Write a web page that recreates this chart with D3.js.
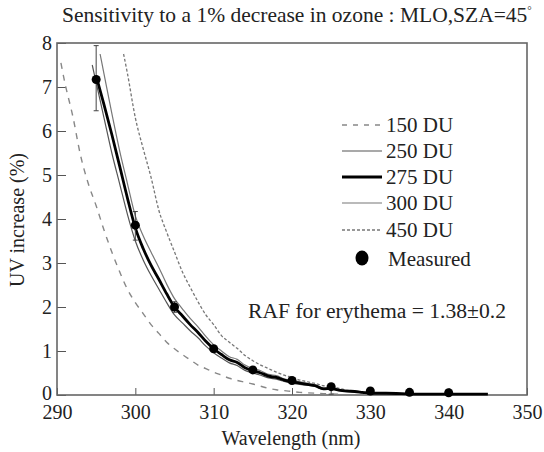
<!DOCTYPE html>
<html>
<head>
<meta charset="utf-8">
<script src="https://cdn.jsdelivr.net/npm/d3@7"></script>
<style>
  body { margin: 0; background: #fff; }
  svg, svg text { font-family: "Liberation Serif", "DejaVu Serif", serif !important; }
  svg text { fill: #222; }
</style>
</head>
<body>
<div id="wrapper"></div>
<script>
// wavelengths (nm) and UV increase (%) for each ozone column
const wl250 = [294.5, 295, 296, 297, 298, 299, 300, 301, 302, 303, 304, 305, 306, 307, 308, 309, 310, 311, 312, 313, 314, 315, 316, 317, 318, 319, 320, 321, 322, 323, 324, 325, 326, 327, 328, 329, 330, 332, 334, 336, 338, 340, 342, 345]
const du250 = [7.5, 7.1, 6.3, 5.5, 4.8, 4.1, 3.5, 3.07, 2.72, 2.41, 2.1, 1.82, 1.64, 1.46, 1.3, 1.11, 0.96, 0.84, 0.73, 0.67, 0.56, 0.5, 0.45, 0.39, 0.36, 0.31, 0.27, 0.24, 0.22, 0.19, 0.13, 0.13, 0.1, 0.08, 0.07, 0.05, 0.04, 0.03, 0.03, 0.02, 0.02, 0.02, 0.02, 0.02]

const wl275 = [295, 296, 297, 298, 299, 300, 301, 302, 303, 304, 305, 306, 307, 308, 309, 310, 311, 312, 313, 314, 315, 316, 317, 318, 319, 320, 321, 322, 323, 324, 325, 326, 327, 328, 329, 330, 332, 334, 336, 338, 340, 342, 345]
const du275 = [7.25, 6.6, 5.92, 5.2, 4.47, 3.8, 3.33, 2.95, 2.63, 2.3, 2.0, 1.8, 1.6, 1.42, 1.22, 1.05, 0.92, 0.8, 0.74, 0.62, 0.55, 0.5, 0.43, 0.4, 0.34, 0.3, 0.27, 0.24, 0.21, 0.14, 0.15, 0.11, 0.09, 0.08, 0.06, 0.04, 0.04, 0.03, 0.02, 0.02, 0.02, 0.02, 0.02]

const wl300 = [295.5, 296, 297, 298, 299, 300, 301, 302, 303, 304, 305, 306, 307, 308, 309, 310, 311, 312, 313, 314, 315, 316, 317, 318, 319, 320, 321, 322, 323, 324, 325, 326, 327, 328, 329, 330, 332, 334, 336, 338, 340, 342, 345]
const du300 = [7.75, 7.3, 6.4, 5.55, 4.8, 4.07, 3.62, 3.25, 2.9, 2.52, 2.19, 1.96, 1.74, 1.55, 1.33, 1.14, 1.0, 0.87, 0.81, 0.68, 0.6, 0.55, 0.47, 0.44, 0.37, 0.33, 0.3, 0.26, 0.23, 0.16, 0.16, 0.12, 0.1, 0.09, 0.07, 0.05, 0.04, 0.03, 0.03, 0.02, 0.02, 0.02, 0.02]

const wl150 = [290.5, 291, 292, 293, 294, 295, 296, 297, 298, 299, 300, 301, 302, 303, 304, 305, 306, 307, 308, 309, 310, 311, 312, 313, 314, 315, 316, 317, 318, 319, 320, 321, 322, 323, 324, 326]
const du150 = [7.55, 7.1, 6.35, 5.45, 4.8, 4.3, 3.75, 3.25, 2.8, 2.4, 2.1, 1.85, 1.6, 1.4, 1.2, 1.05, 0.92, 0.8, 0.68, 0.6, 0.52, 0.45, 0.38, 0.33, 0.29, 0.25, 0.2, 0.15, 0.12, 0.1, 0.08, 0.06, 0.05, 0.04, 0.03, 0.02]

const wl450 = [298.5, 299, 300, 301, 302, 303, 304, 305, 306, 307, 308, 309, 310, 311, 312, 313, 314, 315, 316, 317, 318, 319, 320, 321, 322, 323, 324, 325, 326, 327, 328, 329, 330, 332, 334, 336, 338, 340]
const du450 = [7.75, 7.3, 6.3, 5.6, 4.95, 4.2, 3.7, 3.25, 2.8, 2.45, 2.12, 1.82, 1.6, 1.35, 1.2, 1.06, 0.9, 0.78, 0.68, 0.6, 0.52, 0.45, 0.4, 0.34, 0.3, 0.26, 0.21, 0.2, 0.15, 0.11, 0.08, 0.06, 0.05, 0.04, 0.03, 0.03, 0.02, 0.02]

// measured points with error bars
const measWl = [295, 300, 305, 310, 315, 320, 325, 330, 335, 340]
const measVal = [7.17, 3.86, 2.0, 1.05, 0.57, 0.33, 0.19, 0.09, 0.06, 0.05]
const measLo = [6.46, 3.52, 1.88, null, null, null, 0.02, null, null, null]
const measHi = [7.94, 4.17, 2.12, null, null, null, null, null, null, null]

const xTicks = [290, 300, 310, 320, 330, 340, 350]
const yTicks = [0, 1, 2, 3, 4, 5, 6, 7, 8]

const legendLabels = ["150 DU", "250 DU", "275 DU", "300 DU", "450 DU"]

const FONT = "'Liberation Serif', 'DejaVu Serif', serif"

const width = 544
let dimensions = {
    width: width,
    height: 452,
    margin: { top: 43, right: 17, bottom: 57, left: 57 },
}
dimensions.boundedWidth = dimensions.width - dimensions.margin.left - dimensions.margin.right
dimensions.boundedHeight = dimensions.height - dimensions.margin.top - dimensions.margin.bottom

const wrapper = d3.select("#wrapper")
    .append("svg")
    .attr("width", dimensions.width)
    .attr("height", dimensions.height)
    .style("font-family", FONT)

const bounds = wrapper.append("g")
    .attr("transform", `translate(${dimensions.margin.left},${dimensions.margin.top})`)

const xScaler = d3.scaleLinear()
    .domain([290, 350])
    .range([0, dimensions.boundedWidth])

const yScaler = d3.scaleLinear()
    .domain([0, 8])
    .range([dimensions.boundedHeight, 0])

// axes with inward ticks
const xAxis = bounds.append("g")
    .attr("transform", `translate(0,${dimensions.boundedHeight})`)
    .call(d3.axisBottom(xScaler).tickValues(xTicks).tickSizeInner(-7).tickSizeOuter(0).tickPadding(10))
xAxis.attr("font-family", null)
xAxis.select(".domain").remove()
xAxis.selectAll("line").attr("stroke", "#555")
xAxis.selectAll("text").style("font-size", "20px").style("font-family", FONT).attr("fill", "#222")

const yAxis = bounds.append("g")
    .call(d3.axisLeft(yScaler).tickValues(yTicks).tickSizeInner(-9).tickSizeOuter(0).tickPadding(5))
yAxis.attr("font-family", null)
yAxis.select(".domain").remove()
yAxis.selectAll("line").attr("stroke", "#555")
yAxis.selectAll("text").style("font-size", "20px").style("font-family", FONT).attr("fill", "#222")
yAxis.selectAll("text").filter(d => d === 0).attr("dy", "0.2em")

bounds.append("rect")
    .attr("width", dimensions.boundedWidth)
    .attr("height", dimensions.boundedHeight)
    .attr("fill", "none")
    .attr("stroke", "#666")
    .attr("stroke-width", 1.6)

const lineGen = d3.line()
    .x(d => xScaler(d[0]))
    .y(d => yScaler(d[1]))
    .curve(d3.curveMonotoneX)

const series = [
    { wl: wl150, v: du150, color: "#888", w: 1.4, dash: "6,6" },
    { wl: wl450, v: du450, color: "#777", w: 1.3, dash: "3,2" },
    { wl: wl250, v: du250, color: "#555", w: 1.2, dash: null },
    { wl: wl300, v: du300, color: "#777", w: 1.2, dash: null },
    { wl: wl275, v: du275, color: "#000", w: 2.8, dash: null },
]

series.forEach(s => {
    bounds.append("path")
        .datum(d3.zip(s.wl, s.v))
        .attr("fill", "none")
        .attr("stroke", s.color)
        .attr("stroke-width", s.w)
        .attr("stroke-dasharray", s.dash)
        .attr("d", lineGen)
})

// error bars
const meas = measWl.map((w, i) => ({ w: w, v: measVal[i], lo: measLo[i], hi: measHi[i] }))
const errs = bounds.append("g").selectAll("g")
    .data(meas.filter(d => d.lo != null))
    .enter().append("g")
    .attr("stroke", "#444")
    .attr("stroke-width", 1)
errs.append("line")
    .attr("x1", d => xScaler(d.w)).attr("x2", d => xScaler(d.w))
    .attr("y1", d => yScaler(d.lo)).attr("y2", d => yScaler(d.hi != null ? d.hi : d.v))
errs.append("line")
    .attr("x1", d => xScaler(d.w) - 2.5).attr("x2", d => xScaler(d.w) + 2.5)
    .attr("y1", d => yScaler(d.lo)).attr("y2", d => yScaler(d.lo))
errs.filter(d => d.hi != null).append("line")
    .attr("x1", d => xScaler(d.w) - 2.5).attr("x2", d => xScaler(d.w) + 2.5)
    .attr("y1", d => yScaler(d.hi)).attr("y2", d => yScaler(d.hi))

bounds.append("g").selectAll("circle")
    .data(meas)
    .enter().append("circle")
    .attr("cx", d => xScaler(d.w))
    .attr("cy", d => yScaler(d.v))
    .attr("r", 4.5)
    .attr("fill", "#000")

// legend
const legend = wrapper.append("g")
const legendY = [125, 151, 177, 203, 230]
const legendStyles = [series[0], series[2], series[4], series[3], series[1]]
legendLabels.forEach((lab, i) => {
    const s = legendStyles[i]
    legend.append("line")
        .attr("x1", 342).attr("x2", 382)
        .attr("y1", legendY[i]).attr("y2", legendY[i])
        .attr("stroke", s.color)
        .attr("stroke-width", s.w)
        .attr("stroke-dasharray", s.dash === "6,6" ? "5,6" : s.dash)
    legend.append("text")
        .attr("x", 386).attr("y", legendY[i] + 7)
        .attr("font-size", "21px")
        .text(lab)
})
legend.append("ellipse")
    .attr("cx", 362).attr("cy", 258)
    .attr("rx", 6.5).attr("ry", 7.5)
    .attr("fill", "#000")
legend.append("text")
    .attr("x", 388).attr("y", 266)
    .attr("font-size", "21px")
    .text("Measured")

wrapper.append("text")
    .attr("x", 248).attr("y", 318)
    .attr("font-size", "21.6px")
    .text("RAF for erythema = 1.38\u00b10.2")

// title
const title = wrapper.append("text")
    .attr("x", 62).attr("y", 22)
    .attr("font-size", "21.5px")
title.append("tspan").text("Sensitivity to a 1% decrease in ozone : MLO,SZA=45")
title.append("tspan").attr("font-size", "11px").attr("dy", -8).text("\u00b0")

wrapper.append("text")
    .attr("x", 291).attr("y", 445)
    .attr("text-anchor", "middle")
    .attr("font-size", "20px")
    .text("Wavelength (nm)")

wrapper.append("text")
    .attr("transform", "translate(24,220) rotate(-90)")
    .attr("text-anchor", "middle")
    .attr("font-size", "20px")
    .text("UV increase (%)")
</script>
</body>
</html>
